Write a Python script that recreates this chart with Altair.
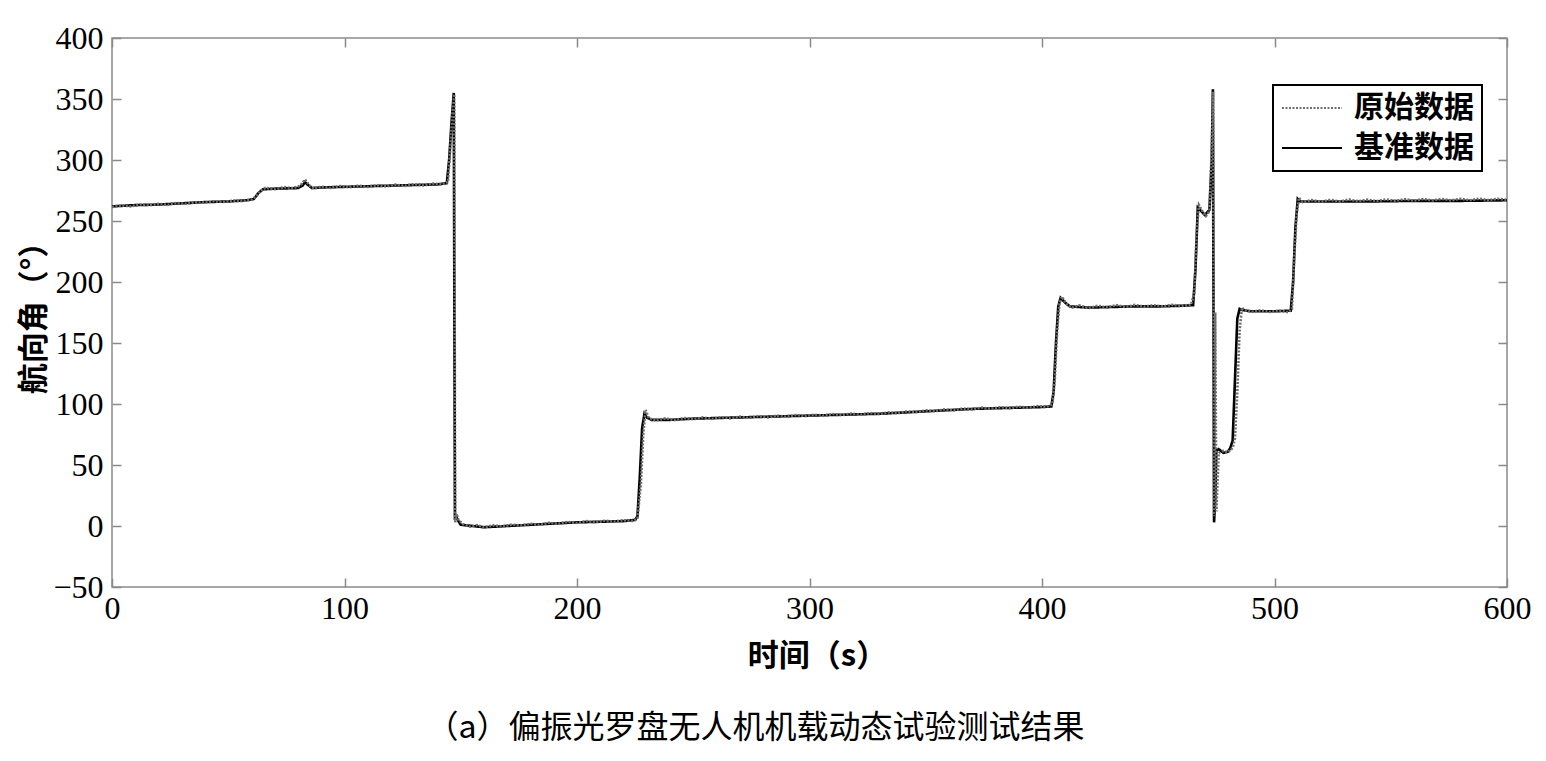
import altair as alt
import pandas as pd

# ---- data ----
base_t = [0, 10, 20, 30, 40, 50, 58, 61, 63, 65, 70, 80, 82, 83, 84, 86, 90, 100, 110, 120,
          130, 140, 144, 145, 146, 147, 147.5, 148, 149, 150, 155, 160, 170, 180, 190, 200,
          210, 220, 225, 226, 227, 228, 229, 230, 232, 240, 250, 260, 270, 280, 290, 300,
          310, 320, 330, 340, 350, 360, 370, 380, 390, 400, 404, 405, 406, 407, 408, 410,
          412, 420, 430, 440, 450, 460, 465, 466, 467, 469, 470, 472, 473, 473.5, 474,
          474.5, 475, 476, 478, 480, 481, 482, 483, 484, 485, 486, 490, 500, 507, 508, 509,
          510, 511, 520, 540, 560, 580, 600]
base_v = [262, 263, 263.5, 264.5, 265.5, 266, 267, 268, 273, 276, 276.5, 277, 279, 282, 280,
          277, 277.5, 278, 278.5, 279, 279.5, 280, 281, 300, 330, 355, 5, 8, 4, 1, 0, -1, 0,
          1, 2, 3, 3.5, 4, 5, 8, 40, 80, 92, 89, 87, 87, 88, 88.5, 89, 89.5, 90, 90.5, 91,
          91.5, 92, 93, 94, 95, 96, 96.5, 97, 97.5, 98, 110, 150, 180, 187, 183, 180, 179,
          179.5, 180, 180, 180.5, 181, 210, 261, 257, 255, 259, 300, 358, 3, 20, 62, 63, 60,
          61, 64, 70, 120, 170, 178, 177, 176, 176, 176.5, 200, 245, 268, 266, 266, 266,
          266.5, 266.5, 267]

raw_t = [0, 4, 8, 12, 16, 20, 24, 28, 32, 36, 40, 44, 48, 52, 56, 60, 62, 64, 66, 70, 74, 78,
         81, 83, 85, 87, 90, 94, 98, 102, 106, 110, 114, 118, 122, 126, 130, 134, 138, 142,
         144.5, 145.5, 146.5, 147.2, 147.6, 148.2, 149, 151, 154, 157, 160, 164, 168, 172,
         176, 180, 184, 188, 192, 196, 200, 204, 208, 212, 216, 220, 224, 226, 227.5, 228.5,
         229.5, 231, 234, 238, 242, 246, 250, 254, 258, 262, 266, 270, 274, 278, 282, 286,
         290, 294, 298, 302, 306, 310, 314, 318, 322, 326, 330, 334, 338, 342, 346, 350, 354,
         358, 362, 366, 370, 374, 378, 382, 386, 390, 394, 398, 402, 404.5, 405.5, 406.5,
         407.5, 408.5, 410.5, 413, 416, 420, 424, 428, 432, 436, 440, 444, 448, 452, 456, 460,
         464, 465.5, 466.5, 467.5, 469, 470.5, 472, 473, 473.6, 474, 474.5, 475, 476, 478, 480,
         482, 483, 484, 485, 486, 487, 490, 494, 498, 502, 506, 507.5, 508.5, 509.5, 510.5,
         512, 516, 520, 524, 528, 532, 536, 540, 544, 548, 552, 556, 560, 564, 568, 572, 576,
         580, 584, 588, 592, 596, 600]
raw_v = [261.5, 262.8, 262.0, 263.5, 262.9, 264.0, 263.2, 264.8, 264.1, 265.3, 265.0, 266.2,
         265.6, 266.8, 266.3, 267.5, 270, 275, 277.2, 276.0, 277.8, 276.9, 279, 284, 279,
         276.5, 278.2, 277.1, 278.6, 277.6, 279.0, 277.9, 279.4, 278.3, 279.8, 278.8, 280.2,
         279.1, 280.6, 280.0, 282, 310, 340, 354, 3, 10, 5, 1.5, -0.5, 0.8, -1.2, 0.5, -0.3,
         1.2, 0.4, 1.8, 1.0, 2.6, 1.8, 3.4, 2.5, 4.0, 3.0, 4.3, 3.6, 4.8, 4.2, 6, 35, 75, 95,
         88, 86.5, 88.2, 86.8, 88.6, 87.4, 89.0, 87.8, 89.3, 88.2, 89.7, 88.6, 90.1, 89.0,
         90.5, 89.5, 91.0, 90.0, 91.3, 90.4, 91.8, 90.8, 92.2, 91.2, 92.6, 91.7, 93.2, 92.4,
         94.0, 93.2, 94.8, 94.0, 95.6, 94.8, 96.3, 95.5, 97.0, 96.1, 97.4, 96.6, 97.8, 97.0,
         98.3, 97.6, 100, 120, 160, 182, 188, 182, 179, 180.8, 178.6, 180.5, 179.2, 181.0,
         179.5, 181.2, 179.8, 181.0, 180.0, 181.3, 180.4, 181.2, 190, 240, 263, 258, 254, 258,
         310, 356, 8, 175, 12, 60, 61.5, 60.5, 64, 72, 110, 160, 179, 177, 175.5, 176.8,
         175.4, 176.6, 175.2, 178, 220, 255, 269, 265.5, 267.2, 265.8, 267.4, 266.0, 267.6,
         266.2, 267.5, 266.4, 267.8, 266.5, 267.9, 266.7, 268.0, 266.8, 268.1, 266.9, 268.2,
         267.0, 268.3, 267.1, 268.2, 267.4]

series_names = ["原始数据", "基准数据"]
x_ticks = [0, 100, 200, 300, 400, 500, 600]
y_ticks = [-50, 0, 50, 100, 150, 200, 250, 300, 350, 400]

base_df = pd.DataFrame({"t": base_t, "v": base_v, "series": series_names[1]})
raw_df = pd.DataFrame({"t": raw_t, "v": raw_v, "series": series_names[0]})

GRAY = "#8a8a8a"
SERIF = "Liberation Serif"
CJK = "Noto Sans CJK SC"

xscale = alt.Scale(domain=[0, 600], nice=False, zero=False)
yscale = alt.Scale(domain=[-50, 400], nice=False, zero=False)
color = alt.Color("series:N", scale=alt.Scale(domain=series_names, range=["#6e6e6e", "#000000"]),
                  legend=alt.Legend(title=None))
dash = alt.StrokeDash("series:N", scale=alt.Scale(domain=series_names, range=[[2, 1.5], [1, 0]]),
                      legend=alt.Legend(title=None))

label_axis_x = alt.Axis(orient="bottom", values=x_ticks, tickSize=0, domain=False, grid=False,
                        labelFont=SERIF, labelFontSize=32, labelColor="#000", labelPadding=6,
                        labelFlush=False, labelOverlap=False,
                        title="时间（s）", titleFont=CJK, titleFontSize=31, titleFontWeight="bold",
                        titleColor="#000", titlePadding=17, titleX=705, titleAlign="center")
label_axis_y = alt.Axis(orient="left", values=y_ticks, tickSize=0, domain=False, grid=False,
                        labelFont=SERIF, labelFontSize=32, labelColor="#000", labelPadding=9,
                        labelFlush=False, labelOverlap=False,
                        title="航向角（°）", titleFont=CJK, titleFontSize=31, titleFontWeight="bold",
                        titleColor="#000", titlePadding=2, titleY=272, titleAlign="center")

def tick_axis(orient, vals):
    return alt.Axis(orient=orient, offset=-9, values=vals, tickSize=9, tickWidth=1.5,
                    tickColor=GRAY, labels=False, domain=False, grid=False, title=None)

base_layer = alt.Chart(base_df).mark_line(strokeWidth=2.6).encode(
    x=alt.X("t:Q", scale=xscale, axis=label_axis_x),
    y=alt.Y("v:Q", scale=yscale, axis=label_axis_y),
    color=color, strokeDash=dash,
)
raw_layer = alt.Chart(raw_df).mark_line(strokeWidth=2.6).encode(
    x=alt.X("t:Q", scale=xscale, axis=tick_axis("bottom", x_ticks)),
    y=alt.Y("v:Q", scale=yscale, axis=tick_axis("left", y_ticks)),
    color=color, strokeDash=dash,
)
ghost_layer = alt.Chart(raw_df).mark_point(opacity=0).encode(
    x=alt.X("t:Q", scale=xscale, axis=tick_axis("top", x_ticks)),
    y=alt.Y("v:Q", scale=yscale, axis=tick_axis("right", y_ticks)),
)

chart = alt.layer(base_layer, raw_layer, ghost_layer).resolve_axis(
    x="independent", y="independent"
).properties(
    width=1395, height=549,
    autosize=alt.AutoSizeParams(type="none"),
    padding={"left": 104, "top": 30, "right": 30, "bottom": 165},
    title=alt.TitleParams("（a）偏振光罗盘无人机机载动态试验测试结果", orient="bottom",
                          anchor="middle", dx=-54, offset=42, font=CJK, fontSize=32,
                          fontWeight="normal", color="#000"),
).configure_view(
    stroke=GRAY, strokeWidth=1.5
).configure_legend(
    orient="none", legendX=1161, legendY=47, strokeColor="#000", strokeWidth=2,
    fillColor="#fff", padding=8, symbolType="stroke", symbolSize=3600,
    symbolStrokeWidth=2, labelFont=CJK, labelFontSize=30, labelFontWeight="bold",
    labelColor="#000", labelOffset=11, rowPadding=10, clipHeight=30, labelLimit=300,
)

chart.save("out.html", embed_options={"renderer": "svg", "actions": False})
